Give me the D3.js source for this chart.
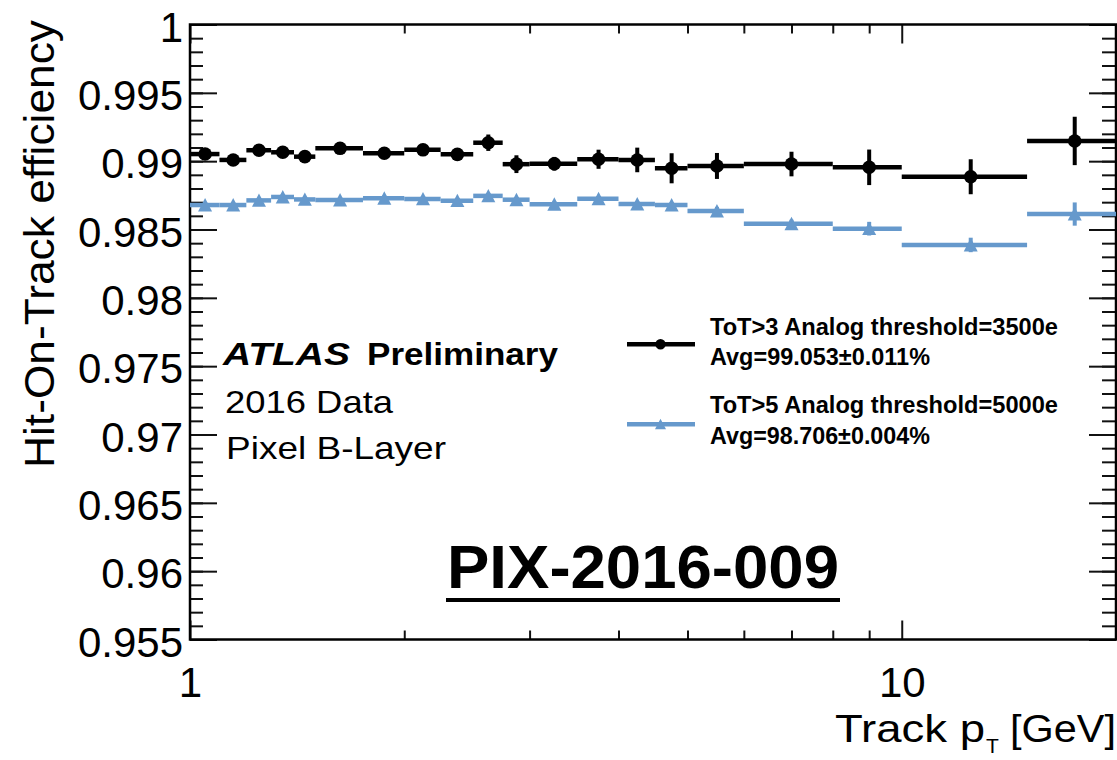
<!DOCTYPE html>
<html>
<head>
<meta charset="utf-8">
<script src="https://cdn.jsdelivr.net/npm/d3@7"></script>
<style>
  body { margin: 0; background: #fff; }
  svg text { font-family: "Liberation Sans", Arial, Helvetica, sans-serif; fill: #000; }
</style>
</head>
<body>
<svg id="chart" width="1117" height="760"></svg>
<script>
// pT bin edges [GeV]
const binEdges = [1.0, 1.1, 1.2, 1.3, 1.4, 1.5, 1.75, 2.0, 2.25, 2.5, 2.75, 3.0, 3.5, 4.0, 4.5, 5.0, 6.0, 8.0, 10, 15, 20];

// ToT>3, analog threshold 3500e
const effTot3 = [0.99052, 0.99009, 0.99080, 0.99065, 0.99033, 0.99094, 0.99058, 0.99083, 0.99050, 0.99135,
                 0.98978, 0.98981, 0.99014, 0.99009, 0.98948, 0.98965, 0.98979, 0.98955, 0.98886, 0.99148];
const errTot3 = [0.0003, 0.0003, 0.0003, 0.0003, 0.0003, 0.0003, 0.0003, 0.0003, 0.0004, 0.0006,
                 0.00065, 0.0005, 0.0007, 0.0009, 0.0011, 0.00095, 0.0009, 0.0013, 0.00128, 0.00177];

// ToT>5, analog threshold 5000e
const effTot5 = [0.98679, 0.98679, 0.98713, 0.98738, 0.98720, 0.98716, 0.98729, 0.98724, 0.98711, 0.98746,
                 0.98718, 0.98684, 0.98725, 0.98687, 0.98679, 0.98635, 0.98542, 0.98506, 0.98387, 0.98613];
const errTot5 = [0.0002, 0.0002, 0.0002, 0.0002, 0.0002, 0.0002, 0.0002, 0.0002, 0.0002, 0.0002,
                 0.0002, 0.0002, 0.0002, 0.0002, 0.0002, 0.0003, 0.0003, 0.0005, 0.00053, 0.00085];

const yMajorTicks = [0.955, 0.96, 0.965, 0.97, 0.975, 0.98, 0.985, 0.99, 0.995, 1];
const yTickLabels = ["0.955", "0.96", "0.965", "0.97", "0.975", "0.98", "0.985", "0.99", "0.995", "1"];
const xMajorTicks = [1, 10];
const xTickLabels = ["1", "10"];
const xMinorTicks = [2, 3, 4, 5, 6, 7, 8, 9, 20];

const legendEntries = [
  { title: "ToT>3 Analog threshold=3500e", avg: "Avg=99.053\u00b10.011%" },
  { title: "ToT>5 Analog threshold=5000e", avg: "Avg=98.706\u00b10.004%" }
];

const BLUE = "#6699cc";
const BLACK = "#000";

const svg = d3.select("#chart");
const margin = { left: 190, top: 24.5, right: 1116, bottom: 639.5 };
const W = margin.right - margin.left;
const H = margin.bottom - margin.top;

const x = d3.scaleLog().domain([1, 20]).range([0, W]);
const y = d3.scaleLinear().domain([0.955, 1]).range([H, 0]);

const g = svg.append("g").attr("transform", `translate(${margin.left},${margin.top})`);

// ---- axes and ticks (all drawn inward) ----
const yMinor = d3.range(955, 1001).map(v => v / 1000);
function styleAxis(sel) {
  sel.select(".domain").remove();
  sel.selectAll(".tick line").attr("stroke", "#111").attr("stroke-width", 2);
}

g.append("g").call(d3.axisLeft(y).tickValues(yMinor).tickSize(-13).tickFormat("")).call(styleAxis);
g.append("g").attr("transform", `translate(${W},0)`)
  .call(d3.axisRight(y).tickValues(yMinor).tickSize(-14).tickFormat("")).call(styleAxis);
g.append("g").attr("transform", `translate(${W},0)`)
  .call(d3.axisRight(y).tickValues(yMajorTicks).tickSize(-27).tickFormat("")).call(styleAxis);
const yAxis = g.append("g")
  .call(d3.axisLeft(y).tickValues(yMajorTicks).tickSize(-27).tickPadding(7)
        .tickFormat((d, i) => yTickLabels[i]))
  .call(styleAxis);
yAxis.selectAll("text").attr("font-size", 42).attr("dy", "0.40em")
  .style("font-family", '"Liberation Sans", Arial, Helvetica, sans-serif');

g.append("g").attr("transform", `translate(0,${H})`)
  .call(d3.axisBottom(x).tickValues(xMinorTicks).tickSize(-9).tickFormat("")).call(styleAxis);
g.append("g")
  .call(d3.axisTop(x).tickValues(xMinorTicks).tickSize(-9).tickFormat("")).call(styleAxis);
g.append("g")
  .call(d3.axisTop(x).tickValues(xMajorTicks).tickSize(-19).tickFormat("")).call(styleAxis);
const xAxis = g.append("g").attr("transform", `translate(0,${H})`)
  .call(d3.axisBottom(x).tickValues(xMajorTicks).tickSize(-19).tickPadding(28)
        .tickFormat((d, i) => xTickLabels[i]))
  .call(styleAxis);
xAxis.selectAll("text").attr("font-size", 42)
  .style("font-family", '"Liberation Sans", Arial, Helvetica, sans-serif');

// frame
g.append("rect").attr("x", 0).attr("y", 0).attr("width", W).attr("height", H)
  .attr("fill", "none").attr("stroke", "#000").attr("stroke-width", 2.5);

// ---- data ----
function makeBins(vals, errs) {
  return vals.map((v, i) => ({
    lo: binEdges[i], hi: binEdges[i + 1],
    c: (binEdges[i] + binEdges[i + 1]) / 2,
    v: v, e: errs[i]
  }));
}
const series = [
  { bins: makeBins(effTot5, errTot5), color: BLUE, marker: "triangle" },
  { bins: makeBins(effTot3, errTot3), color: BLACK, marker: "circle" }
];

const triPath = (s) => `M0,${-s}L${s},${s * 0.92}L${-s},${s * 0.92}Z`;

series.forEach(s => {
  const sg = g.append("g");
  sg.selectAll("line.h").data(s.bins).join("line")
    .attr("x1", d => x(d.lo)).attr("x2", d => x(d.hi))
    .attr("y1", d => y(d.v)).attr("y2", d => y(d.v))
    .attr("stroke", s.color).attr("stroke-width", 4.5);
  sg.selectAll("line.v").data(s.bins).join("line")
    .attr("x1", d => x(d.c)).attr("x2", d => x(d.c))
    .attr("y1", d => y(d.v - d.e)).attr("y2", d => y(d.v + d.e))
    .attr("stroke", s.color).attr("stroke-width", 4);
  if (s.marker === "circle") {
    sg.selectAll("circle").data(s.bins).join("circle")
      .attr("cx", d => x(d.c)).attr("cy", d => y(d.v)).attr("r", 6.8)
      .attr("fill", s.color);
  } else {
    sg.selectAll("path").data(s.bins).join("path")
      .attr("transform", d => `translate(${x(d.c)},${y(d.v)})`)
      .attr("d", triPath(7)).attr("fill", s.color);
  }
});

// ---- legend ----
const leg = svg.append("g");
const legRows = [
  { y: 344.3, color: BLACK, marker: "circle", t1: 335, t2: 365 },
  { y: 424.3, color: BLUE, marker: "triangle", t1: 413, t2: 444 }
];
legRows.forEach((r, i) => {
  leg.append("line").attr("x1", 627).attr("x2", 695).attr("y1", r.y).attr("y2", r.y)
    .attr("stroke", r.color).attr("stroke-width", 4.5);
  if (r.marker === "circle") {
    leg.append("circle").attr("cx", 660.5).attr("cy", r.y).attr("r", 5.2).attr("fill", r.color);
  } else {
    leg.append("path").attr("transform", `translate(660.5,${r.y})`).attr("d", triPath(5.5)).attr("fill", r.color);
  }
  leg.append("text").attr("x", 710).attr("y", r.t1).attr("font-size", 23).attr("font-weight", "bold")
    .attr("textLength", 348).attr("lengthAdjust", "spacingAndGlyphs").text(legendEntries[i].title);
  leg.append("text").attr("x", 710).attr("y", r.t2).attr("font-size", 23).attr("font-weight", "bold")
    .attr("textLength", 220).attr("lengthAdjust", "spacingAndGlyphs").text(legendEntries[i].avg);
});

// ---- labels ----
svg.append("text").attr("x", 223).attr("y", 365).attr("font-size", 31)
  .attr("font-weight", "bold").attr("font-style", "italic")
  .attr("textLength", 127).attr("lengthAdjust", "spacingAndGlyphs").text("ATLAS");
svg.append("text").attr("x", 367).attr("y", 365).attr("font-size", 31).attr("font-weight", "bold")
  .attr("textLength", 191).attr("lengthAdjust", "spacingAndGlyphs").text("Preliminary");
svg.append("text").attr("x", 225).attr("y", 413).attr("font-size", 32)
  .attr("textLength", 168).attr("lengthAdjust", "spacingAndGlyphs").text("2016 Data");
svg.append("text").attr("x", 226).attr("y", 459).attr("font-size", 32)
  .attr("textLength", 220).attr("lengthAdjust", "spacingAndGlyphs").text("Pixel B-Layer");

svg.append("text").attr("x", 447).attr("y", 588).attr("font-size", 62).attr("font-weight", "bold")
  .attr("textLength", 392).attr("lengthAdjust", "spacingAndGlyphs").text("PIX-2016-009");
svg.append("line").attr("x1", 446).attr("x2", 840).attr("y1", 600).attr("y2", 600)
  .attr("stroke", "#000").attr("stroke-width", 4);

// axis titles
svg.append("text").attr("transform", "translate(54,20) rotate(-90)")
  .attr("text-anchor", "end").attr("font-size", 42)
  .attr("textLength", 448).attr("lengthAdjust", "spacingAndGlyphs").text("Hit-On-Track efficiency");

svg.append("text").attr("x", 835).attr("y", 742).attr("font-size", 38)
  .attr("textLength", 150).attr("lengthAdjust", "spacingAndGlyphs").text("Track p");
svg.append("text").attr("x", 986).attr("y", 753).attr("font-size", 21).text("T");
svg.append("text").attr("x", 1010).attr("y", 742).attr("font-size", 38)
  .attr("textLength", 106).attr("lengthAdjust", "spacingAndGlyphs").text("[GeV]");
</script>
</body>
</html>
